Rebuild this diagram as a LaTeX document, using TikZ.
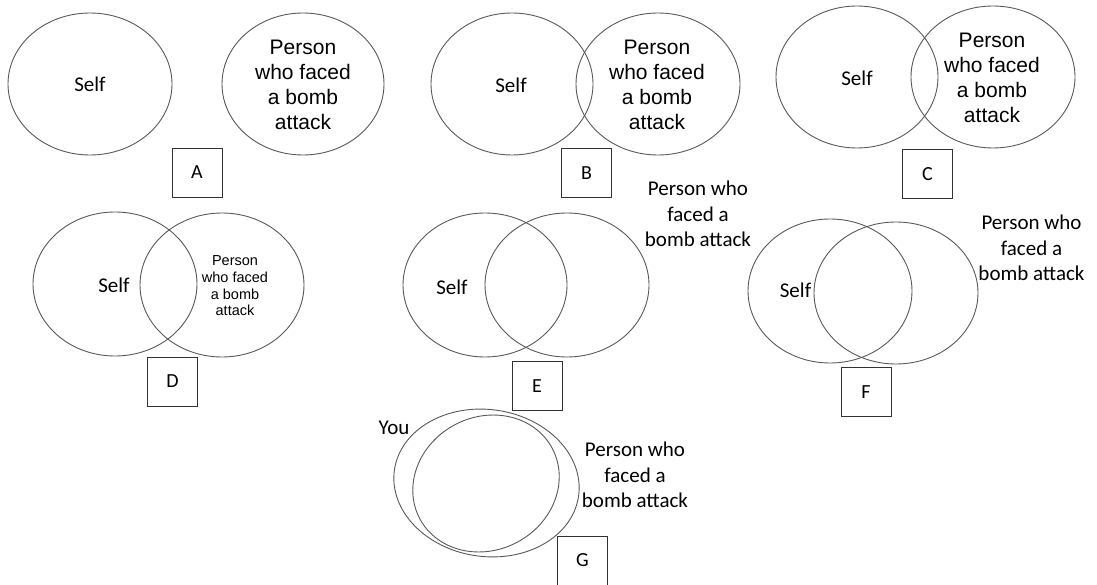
\documentclass[tikz,border=0pt]{standalone}
\usepackage{fontspec}
\setmainfont{Carlito}
\newfontfamily\arialf{Liberation Sans}
\begin{document}
\begin{tikzpicture}[x=1pt,y=-1pt,
  venn/.style={draw=black!65, line width=0.9pt},
  cal/.style={inner sep=0pt, font=\fontsize{21}{25.5}\selectfont, align=center},
  ari/.style={inner sep=0pt, font=\arialf\fontsize{21}{25}\selectfont, align=center},
  arismall/.style={inner sep=0pt, font=\arialf\fontsize{14.5}{16.7}\selectfont, align=center},
  tagbox/.style={draw=black!80, line width=0.9pt, minimum width=50pt, minimum height=49pt, inner sep=0pt, font=\fontsize{20}{24}\selectfont}
]
\useasboundingbox[fill=white] (0,0) rectangle (1097,585);

% Panel A
\draw[venn] (90,84) ellipse [x radius=82pt, y radius=71pt];
\draw[venn] (303,84) ellipse [x radius=81pt, y radius=71pt];
\node[cal] (selfA) at (90,84) {Self};
\node[ari] (persA) at (303,84.5) {Person\\who faced\\a bomb\\attack};
\node[tagbox] (boxA) at (197,172.5) {A};

% Panel B
\draw[venn] (512,84) ellipse [x radius=81pt, y radius=71pt];
\draw[venn] (658,84) ellipse [x radius=82pt, y radius=71pt];
\node[cal] (selfB) at (511,85) {Self};
\node[ari] (persB) at (657,84.5) {Person\\who faced\\a bomb\\attack};
\node[tagbox] (boxB) at (586.5,173) {B};

% Panel C
\draw[venn] (857,77) ellipse [x radius=81pt, y radius=71pt];
\draw[venn] (993,77) ellipse [x radius=82pt, y radius=71pt];
\node[cal] (selfC) at (857,78) {Self};
\node[ari] (persC) at (992,77.5) {Person\\who faced\\a bomb\\attack};
\node[tagbox] (boxC) at (927.5,174) {C};

% Panel D
\draw[venn] (115,284) ellipse [x radius=82pt, y radius=72pt];
\draw[venn] (222,285) ellipse [x radius=82pt, y radius=72pt];
\node[cal] (selfD) at (114,285) {Self};
\node[arismall] (persD) at (235,286) {Person\\who faced\\a bomb\\attack};
\node[tagbox] (boxD) at (172.5,381.5) {D};

% Panel E
\draw[venn] (485,285) ellipse [x radius=82pt, y radius=72pt];
\draw[venn] (567,285) ellipse [x radius=82pt, y radius=72pt];
\node[cal] (selfE) at (452,287) {Self};
\node[cal] (persE) at (698,214) {Person who\\faced a\\bomb attack};
\node[tagbox] (boxE) at (537,386) {E};

% Panel F
\draw[venn] (830,291) ellipse [x radius=82pt, y radius=72pt];
\draw[venn] (896,293) ellipse [x radius=82pt, y radius=71pt];
\node[cal] (selfF) at (795.5,290) {Self};
\node[cal] (persF) at (1031.5,248) {Person who\\faced a\\bomb attack};
\node[tagbox] (boxF) at (866,392) {F};

% Panel G
\draw[venn, rotate around={-8:(486.5,483)}] (486.5,483) ellipse [x radius=93pt, y radius=73.5pt];
\draw[venn, rotate around={28:(486,483.5)}] (486,483.5) ellipse [x radius=75pt, y radius=66.5pt];
\node[cal] (youG) at (394,428) {You};
\node[cal] (persG) at (635,475) {Person who\\faced a\\bomb attack};
\node[tagbox] (boxG) at (582.5,560.5) {G};
\end{tikzpicture}
\end{document}
